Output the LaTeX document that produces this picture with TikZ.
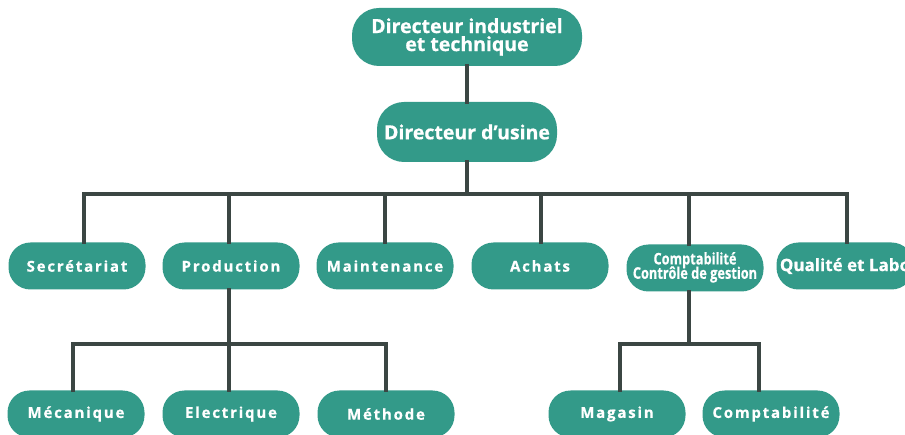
\documentclass[tikz,border=0pt]{standalone}
\usepackage{fontspec}
\setmainfont{Open Sans}[BoldFeatures={FakeBold=0.6}]
\newfontfamily\spfont{Open Sans}[LetterSpace=12,BoldFeatures={FakeBold=0.6}]
\definecolor{tealbox}{HTML}{339A89}
\definecolor{lncol}{HTML}{3B4643}
\begin{document}
\begin{tikzpicture}[x=1pt,y=-1pt,
  box/.style={fill=tealbox, text=white, inner sep=0pt, align=center},
  topbox/.style={box, minimum width=230pt, minimum height=58pt, rounded corners=27pt, font=\fontsize{19.5}{20}\selectfont\bfseries},
  midbox/.style={box, minimum width=180pt, minimum height=60pt, rounded corners=27pt, font=\fontsize{19.5}{20}\selectfont\bfseries},
  rowbox/.style={box, minimum width=137pt, minimum height=47pt, rounded corners=22pt, font=\spfont\fontsize{15}{16}\selectfont\bfseries},
  conn/.style={draw=lncol, line width=3.5pt, line cap=rect}]
\useasboundingbox[clip] (0,0) rectangle (905,435);
\fill[white] (0,0) rectangle (905,435);
% nodes
\node[topbox] (dit) at (467,37) {Directeur industriel\\[-2pt]et technique};
\node[midbox] (du) at (467,132) {Directeur d’usine};
\node[rowbox] (sec) at (77,266) {Secrétariat};
\node[rowbox] (prod) at (231,266) {Production};
\node[rowbox] (maint) at (385,266) {Maintenance};
\node[rowbox] (ach) at (540,266) {Achats};
\node[rowbox, font=\fontsize{16}{17}\selectfont\bfseries] (cc) at (695,268) {\scalebox{0.8}[1]{\begin{tabular}{@{}c@{}}Comptabilité\\[-3pt]Contrôle de gestion\end{tabular}}};
\node[rowbox, font=\fontsize{17}{18}\selectfont\bfseries] (qual) at (845,266) {Qualité et Labo};
\node[rowbox] (mec) at (76,414) {Mécanique};
\node[rowbox] (ele) at (231,414) {Electrique};
\node[rowbox] (met) at (386,414) {Méthode};
\node[rowbox] (mag) at (617,414) {Magasin};
\node[rowbox] (cpt) at (771,414) {Comptabilité};
% bus coordinates
\coordinate (c1) at (84,194);
\coordinate (c2) at (229,194);
\coordinate (c3) at (385,194);
\coordinate (c4) at (541,194);
\coordinate (c5) at (689,194);
\coordinate (c6) at (847,194);
\coordinate (p1) at (73,344);
\coordinate (p2) at (229,344);
\coordinate (p3) at (386,344);
\coordinate (q0) at (689,344);
\coordinate (q1) at (620,344);
\coordinate (q2) at (759,344);
% connectors
\draw[conn] (dit.south -| du.south) -- (du.north);
\draw[conn] (du.south) -- (du.south |- c1);
\draw[conn] (c1) -- (c6);
\draw[conn] (c1) -- (c1 |- sec.north);
\draw[conn] (c2) -- (c2 |- prod.north);
\draw[conn] (c3) -- (c3 |- maint.north);
\draw[conn] (c4) -- (c4 |- ach.north);
\draw[conn] (c5) -- (c5 |- cc.north);
\draw[conn] (c6) -- (c6 |- qual.north);
\draw[conn] (prod.south -| p2) -- (p2);
\draw[conn] (p1) -- (p3);
\draw[conn] (p1) -- (p1 |- mec.north);
\draw[conn] (p2) -- (p2 |- ele.north);
\draw[conn] (p3) -- (p3 |- met.north);
\draw[conn] (cc.south -| q0) -- (q0);
\draw[conn] (q1) -- (q2);
\draw[conn] (q1) -- (q1 |- mag.north);
\draw[conn] (q2) -- (q2 |- cpt.north);
\end{tikzpicture}
\end{document}
